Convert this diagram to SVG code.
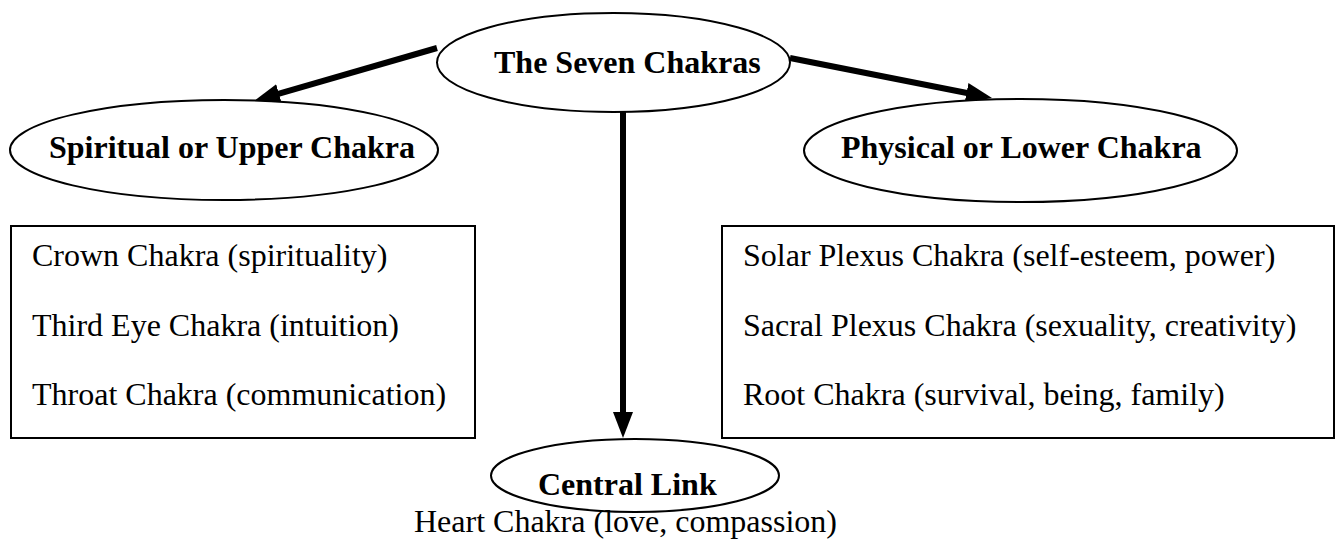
<svg xmlns="http://www.w3.org/2000/svg" width="1341" height="548" viewBox="0 0 1341 548">
<style>
.shape{fill:#fff;stroke:#000;stroke-width:2}
.bold{font-family:"Liberation Serif","Times New Roman",serif;font-weight:bold;font-size:32px;fill:#000}
.reg{font-family:"Liberation Serif","Times New Roman",serif;font-size:32px;fill:#000}
.conn{stroke:#000;stroke-width:6;fill:none}
</style>
<defs>
<marker id="ah" markerUnits="userSpaceOnUse" markerWidth="26" markerHeight="20" refX="16" refY="10" orient="auto">
<path d="M0,0 L26,10 L0,20 z" fill="#000"/>
</marker>
</defs>
<rect width="1341" height="548" fill="#fff"/>
<g id="connectors">
<line class="conn" x1="437" y1="48" x2="263.6" y2="98.2" marker-end="url(#ah)"/>
<line class="conn" x1="790" y1="58" x2="982.2" y2="96" marker-end="url(#ah)"/>
<line class="conn" x1="623" y1="112" x2="623" y2="428" marker-end="url(#ah)"/>
</g>
<g id="root">
<ellipse class="shape" cx="613.5" cy="62.5" rx="176.5" ry="49.5"/>
<text class="bold" x="494" y="73">The Seven Chakras</text>
</g>
<g id="upper">
<ellipse class="shape" cx="224" cy="150" rx="214" ry="50"/>
<text class="bold" x="49" y="158">Spiritual or Upper Chakra</text>
</g>
<g id="lower">
<ellipse class="shape" cx="1020.5" cy="150.5" rx="216.5" ry="51.5"/>
<text class="bold" x="841" y="158">Physical or Lower Chakra</text>
</g>
<g id="upper-list">
<rect class="shape" x="11" y="226" width="464" height="212"/>
<text class="reg" x="32" y="266">Crown Chakra (spirituality)</text>
<text class="reg" x="32" y="336">Third Eye Chakra (intuition)</text>
<text class="reg" x="32" y="405">Throat Chakra (communication)</text>
</g>
<g id="lower-list">
<rect class="shape" x="722" y="226" width="612" height="212"/>
<text class="reg" x="743" y="266">Solar Plexus Chakra (self-esteem, power)</text>
<text class="reg" x="743" y="336">Sacral Plexus Chakra (sexuality, creativity)</text>
<text class="reg" x="743" y="405">Root Chakra (survival, being, family)</text>
</g>
<g id="central">
<ellipse class="shape" cx="635" cy="475.5" rx="144" ry="36.5"/>
<text class="bold" x="538" y="495">Central Link</text>
<text class="reg" x="414" y="532">Heart Chakra (love, compassion)</text>
</g>
</svg>
